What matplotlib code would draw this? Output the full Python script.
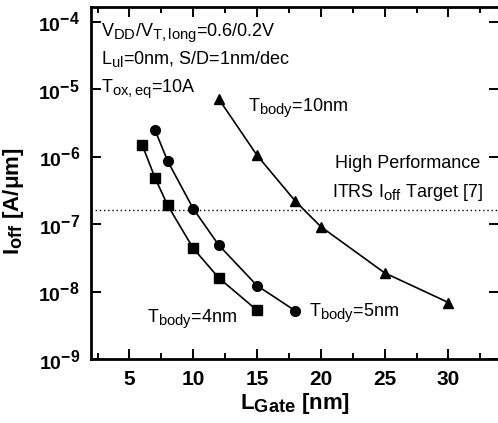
import matplotlib

matplotlib.use("Agg")

import matplotlib._mathtext as mathtext_internals
import matplotlib.pyplot as plt
from matplotlib.ticker import FixedLocator, LogLocator, NullLocator

plt.rcParams["font.family"] = ["Liberation Sans", "DejaVu Sans"]
plt.rcParams["mathtext.fontset"] = "custom"
plt.rcParams["mathtext.rm"] = "Liberation Sans"
plt.rcParams["mathtext.it"] = "Liberation Sans:italic"
plt.rcParams["mathtext.bf"] = "Liberation Sans:bold"
# the scanned figure uses fairly large sub/superscripts
mathtext_internals.SHRINK_FACTOR = 0.82

# data
lg_4nm = [6, 7, 8, 10, 12, 15]
ioff_4nm = [1.5e-6, 4.9e-7, 1.9e-7, 4.4e-8, 1.6e-8, 5.3e-9]

lg_5nm = [7, 8, 10, 12, 15, 18]
ioff_5nm = [2.5e-6, 8.6e-7, 1.7e-7, 4.9e-8, 1.23e-8, 5.2e-9]

lg_10nm = [12, 15, 18, 20, 25, 30]
ioff_10nm = [7.2e-6, 1.05e-6, 2.2e-7, 9.2e-8, 1.9e-8, 6.9e-9]

itrs_target = 1.65e-7

fig = plt.figure(figsize=(4.98, 4.23), dpi=100)
ax = fig.add_axes([0.183, 0.151, 0.82, 0.832])

ax.plot(lg_4nm, ioff_4nm, color="black", lw=1.2, marker="s", ms=6.5)
ax.plot(lg_5nm, ioff_5nm, color="black", lw=1.2, marker="o", ms=7)
ax.plot(lg_10nm, ioff_10nm, color="black", lw=1.2, marker="^", ms=7.5)
ax.axhline(itrs_target, color="black", lw=1.0, ls=(0, (1, 2)))

ax.set_yscale("log")
ax.set_xlim(2, 34)
ax.set_ylim(1e-9, 1.65e-4)

ax.xaxis.set_major_locator(FixedLocator([5, 10, 15, 20, 25, 30]))
ax.xaxis.set_minor_locator(FixedLocator([2.5, 7.5, 12.5, 17.5, 22.5, 27.5, 32.5]))
ax.yaxis.set_major_locator(LogLocator(base=10, numticks=10))
ax.yaxis.set_minor_locator(NullLocator())

ax.tick_params(which="both", direction="in", top=True, right=True, width=1.4)
ax.tick_params(which="major", length=7, pad=8)
ax.tick_params(which="minor", length=4)
ax.tick_params(axis="x", labelsize=15)
ax.tick_params(axis="y", labelsize=14)
for lab in ax.get_xticklabels() + ax.get_yticklabels():
    lab.set_fontweight("bold")
for s in ax.spines.values():
    s.set_linewidth(2)

ax.set_xlabel(r"$\mathregular{L_{Gate}}$ [nm]", fontsize=16, fontweight="bold", labelpad=1)
ax.set_ylabel(r"$\mathregular{I_{off}}$ [A/$\mathregular{\mu}$m]", fontsize=16,
              fontweight="bold")
ax.yaxis.set_label_coords(-0.16, 0.45)

fs = 13
ax.text(0.024, 0.96, r"$\mathregular{V_{DD}/V_{T,long}}$=0.6/0.2V", transform=ax.transAxes,
        fontsize=fs, va="top")
ax.text(0.024, 0.882, r"$\mathregular{L_{ul}}$=0nm, S/D=1nm/dec", transform=ax.transAxes,
        fontsize=fs, va="top")
ax.text(0.024, 0.80, r"$\mathregular{T_{ox,eq}}$=10A", transform=ax.transAxes,
        fontsize=fs, va="top")
ax.text(14.3, 5.4e-6, r"$\mathregular{T_{body}}$=10nm", fontsize=fs, va="center")
ax.text(6.4, 4.0e-9, r"$\mathregular{T_{body}}$=4nm", fontsize=fs, va="center")
ax.text(19.1, 4.9e-9, r"$\mathregular{T_{body}}$=5nm", fontsize=fs, va="center")
ax.text(26.8, 8.0e-7, "High Performance", fontsize=fs, ha="center", va="center")
ax.text(26.8, 3.0e-7, r"ITRS $\mathregular{I_{off}}$ Target [7]", fontsize=fs,
        ha="center", va="center")

fig.savefig("out.png", dpi=100)
